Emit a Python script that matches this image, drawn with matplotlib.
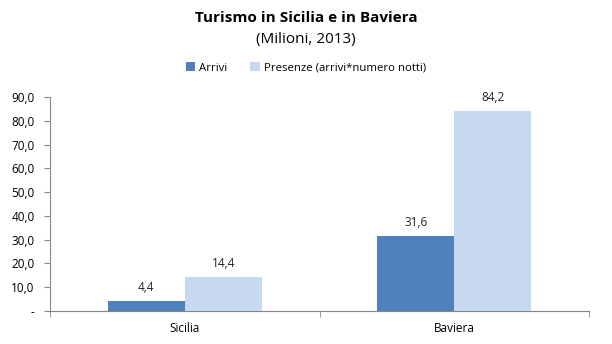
import numpy as np
import matplotlib
matplotlib.use("Agg")
import matplotlib.pyplot as plt
from matplotlib.ticker import FuncFormatter

# data
categorie = ["Sicilia", "Baviera"]
arrivi = [4.4, 31.6]
presenze = [14.4, 84.2]
serie = ["Arrivi", "Presenze (arrivi*numero notti)"]

BLU = "#4F81BD"
AZZURRO = "#C6D9F1"

plt.rcParams["font.family"] = ["Open Sans", "DejaVu Sans"]

fig = plt.figure(figsize=(6.12, 3.44), dpi=100)
ax = fig.add_axes([50 / 612, (344 - 311) / 344, 539 / 612, 214 / 344])

x = np.arange(len(categorie))
w = 0.285
b1 = ax.bar(x - w / 2, arrivi, w, color=BLU, label=serie[0])
b2 = ax.bar(x + w / 2, presenze, w, color=AZZURRO, label=serie[1])

def fmt(v):
    return ("%.1f" % v).replace(".", ",")

for bars, vals in ((b1, arrivi), (b2, presenze)):
    for r, v in zip(bars, vals):
        ax.annotate(fmt(v), (r.get_x() + r.get_width() / 2, v),
                    xytext=(0, 5), textcoords="offset points",
                    ha="center", va="bottom", fontsize=8.5, color="#222222")

ax.set_xlim(-0.5, 1.5)
ax.set_ylim(0, 90)
ax.set_yticks(np.arange(0, 91, 10))
ax.yaxis.set_major_formatter(FuncFormatter(lambda v, p: "-" if v == 0 else fmt(v)))
ax.set_xticks(x)
ax.set_xticklabels(categorie)
ax.set_xticks([-0.5, 0.5, 1.5], minor=True)
ax.tick_params(axis="x", which="major", length=0, pad=8, labelsize=8.5)
ax.tick_params(axis="x", which="minor", length=4, color="#868686", direction="out")
ax.tick_params(axis="y", length=4, color="#868686", labelsize=8.5, pad=7)

for s in ("top", "right"):
    ax.spines[s].set_visible(False)
for s in ("left", "bottom"):
    ax.spines[s].set_color("#868686")
    ax.spines[s].set_linewidth(0.8)

fig.text(0.5, 1 - 18 / 344, "Turismo in Sicilia e in Baviera", ha="center", va="center",
         fontsize=11, fontweight="bold")
fig.text(0.5, 1 - 40 / 344, "(Milioni, 2013)", ha="center", va="center", fontsize=11)

fig.legend(handles=[b1, b2], loc="center", bbox_to_anchor=(0.5, 1 - 68 / 344),
           ncol=2, frameon=False, fontsize=8.2, handlelength=0.8, handleheight=0.8,
           columnspacing=2.0, handletextpad=0.4)

fig.savefig("out.png", dpi=100)
